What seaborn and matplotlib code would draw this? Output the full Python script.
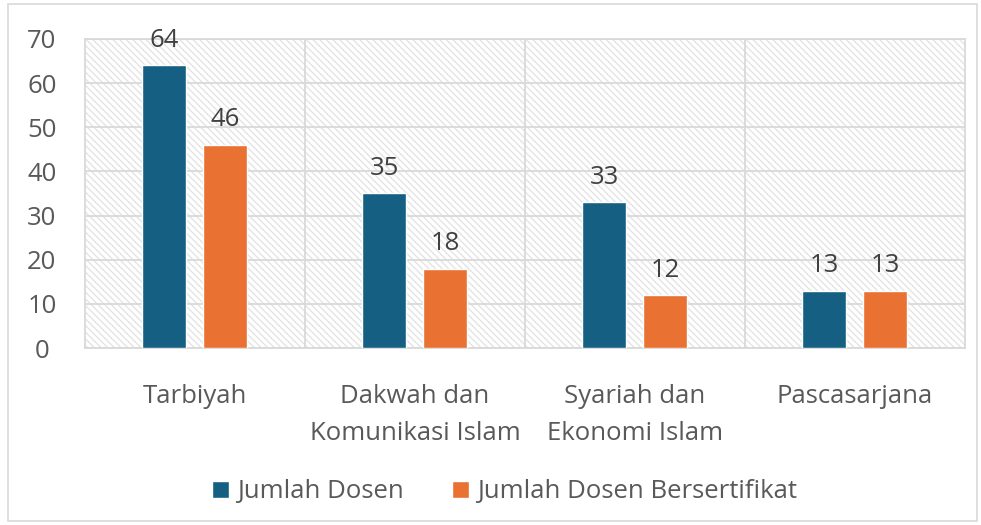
import matplotlib
matplotlib.use("Agg")
import matplotlib.pyplot as plt
import matplotlib.patches as mpatches
import seaborn as sns
import pandas as pd

# data
fakultas = ["Tarbiyah", "Dakwah dan\nKomunikasi Islam", "Syariah dan\nEkonomi Islam", "Pascasarjana"]
jumlah_dosen = [64, 35, 33, 13]
jumlah_sertifikat = [46, 18, 12, 13]
seri = ["Jumlah Dosen", "Jumlah Dosen Bersertifikat"]
warna = ["#156082", "#E97132"]

df = pd.DataFrame({
    "Fakultas": fakultas * 2,
    "Nilai": jumlah_dosen + jumlah_sertifikat,
    "Seri": [seri[0]] * 4 + [seri[1]] * 4,
})

sns.set_theme(style="white")
plt.rcParams["font.family"] = ["Open Sans", "DejaVu Sans"]
plt.rcParams["hatch.color"] = "#e4e4e4"
plt.rcParams["hatch.linewidth"] = 1.0

FS = 18.5

fig = plt.figure(figsize=(9.81, 5.25), dpi=100)
ax = fig.add_axes([0.0866, 0.337, 0.897, 0.589])

# hatched plot background
ax.add_patch(mpatches.Rectangle((0, 0), 1, 1, transform=ax.transAxes, facecolor="white",
                                edgecolor="#e4e4e4", hatch="\\\\\\\\\\", lw=0, zorder=0))

sns.barplot(data=df, x="Fakultas", y="Nilai", hue="Seri", palette=warna,
            width=0.555, gap=0.28, ax=ax, zorder=3, legend=True, saturation=1)

ax.set_xlim(-0.5, 3.5)
ax.set_ylim(0, 70)
ax.set_yticks(range(0, 71, 10))
ax.yaxis.grid(True, color="#d9d9d9", lw=1.3, zorder=1)
for xv in [0.5, 1.5, 2.5]:
    ax.axvline(xv, color="#d9d9d9", lw=1.3, zorder=1)
for s in ax.spines.values():
    s.set_color("#d9d9d9")
    s.set_linewidth(1.3)
ax.set_axisbelow(True)
ax.set_xlabel("")
ax.set_ylabel("")
ax.tick_params(axis="both", length=0, labelsize=FS, labelcolor="#595959")
ax.tick_params(axis="x", pad=26)
ax.tick_params(axis="y", pad=31)
for t in ax.get_yticklabels():
    t.set_horizontalalignment("center")
for t in ax.get_xticklabels():
    t.set_linespacing(1.6)

for c in ax.containers:
    ax.bar_label(c, padding=9, fontsize=FS, color="#404040")

ax.legend(loc="upper center", bbox_to_anchor=(0.477, -0.35), ncol=2, frameon=False,
          fontsize=FS, labelcolor="#595959", handlelength=0.65, handleheight=0.65,
          handletextpad=0.3, columnspacing=1.9)

fig.patches.append(mpatches.Rectangle((0.008, 0.008), 0.988, 0.984, transform=fig.transFigure,
                                      fill=False, edgecolor="#d9d9d9", lw=1.2))

fig.savefig("out.png", dpi=100)
